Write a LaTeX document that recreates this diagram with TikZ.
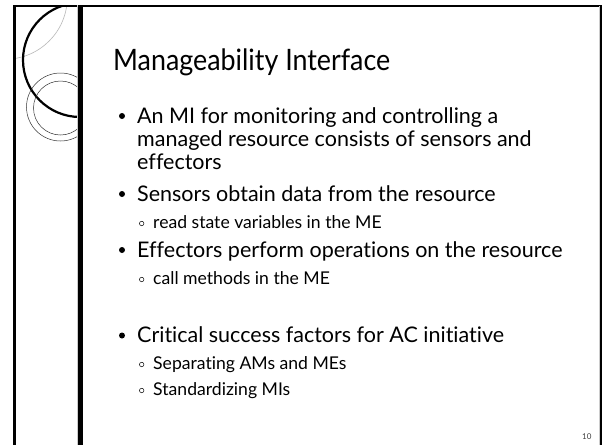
\documentclass[tikz,border=0pt]{standalone}
\usepackage{fontspec}
\setmainfont[Ligatures=NoCommon]{Lato}
\newfontfamily\headfont[Ligatures=NoCommon,FakeStretch=0.91]{Lato}
\begin{document}
\begin{tikzpicture}[x=1pt,y=-1pt,
  frameline/.style={line width=#1, draw=black},
  titletext/.style={anchor=base west, inner sep=0pt, font=\headfont\fontsize{29.5}{34}\selectfont},
  bodytext/.style={anchor=base west, inner sep=0pt, font=\fontsize{21.5}{26}\selectfont},
  subtext/.style={anchor=base west, inner sep=0pt, font=\fontsize{17.6}{21}\selectfont},
  maindot/.style={circle, fill=black, inner sep=0pt, minimum size=6pt},
  subdot/.style={circle, draw=black, line width=0.5pt, inner sep=0pt, minimum size=4.5pt},
  ornament/.style={line width=0.5pt, draw=black!80},
]
\useasboundingbox (0,0) rectangle (603,445);
\fill[white] (0,0) rectangle (603,445);

% decorative arcs in the left margin band
\begin{scope}
  \clip (14,5) rectangle (78,445);
  \draw[line width=0.6pt, gray!55] (5.3,-2.8) circle[radius=62];
  \draw[line width=2.2pt, black] (80,60) circle[radius=57];
  \draw[ornament] (60.5,107) circle[radius=34];
  \draw[ornament] (60.5,108) circle[radius=27];
\end{scope}

% slide frame
\draw[frameline=2pt] (13.5,5.5) -- (602,5.5);
\draw[frameline=2.5pt] (14.5,5) -- (14.5,445);
\draw[line width=1pt, gray!40] (77,5) -- (77,445);
\draw[frameline=5pt] (80.5,5) -- (80.5,445);
\draw[line width=1pt, gray!40] (599,6) -- (599,445);
\draw[frameline=1.5pt] (601,5) -- (601,445);

% title and bullets
\node[titletext] (title) at (113,70.5) {Manageability Interface};

\node[bodytext] (l1) at (137,123) {An MI for monitoring and controlling a};
\node[bodytext] (l2) at (137,146) {managed resource consists of sensors and};
\node[bodytext] (l3) at (137,169) {effectors};
\node[bodytext] (l4) at (137,201) {Sensors obtain data from the resource};
\node[subtext]  (s1) at (153,228) {read state variables in the ME};
\node[bodytext] (l5) at (137,257) {Effectors perform operations on the resource};
\node[subtext]  (s2) at (153,284) {call methods in the ME};
\node[bodytext] (l6) at (137,342.5) {Critical success factors for AC initiative};
\node[subtext]  (s3) at (153,369) {Separating AMs and MEs};
\node[subtext]  (s4) at (153,395) {Standardizing MIs};

\node[maindot] (d1) at (122,116) {};
\node[maindot] (d2) at (122,194) {};
\node[maindot] (d3) at (122,250) {};
\node[maindot] (d4) at (122,335.5) {};
\node[subdot] (c1) at (141.7,223.5) {};
\node[subdot] (c2) at (141.7,279.5) {};
\node[subdot] (c3) at (141.7,364.5) {};
\node[subdot] (c4) at (141.7,390.5) {};

\node[anchor=base west, inner sep=0pt, font=\fontsize{8}{9}\selectfont, text=black!75] (page) at (582,439) {10};
\end{tikzpicture}
\end{document}
